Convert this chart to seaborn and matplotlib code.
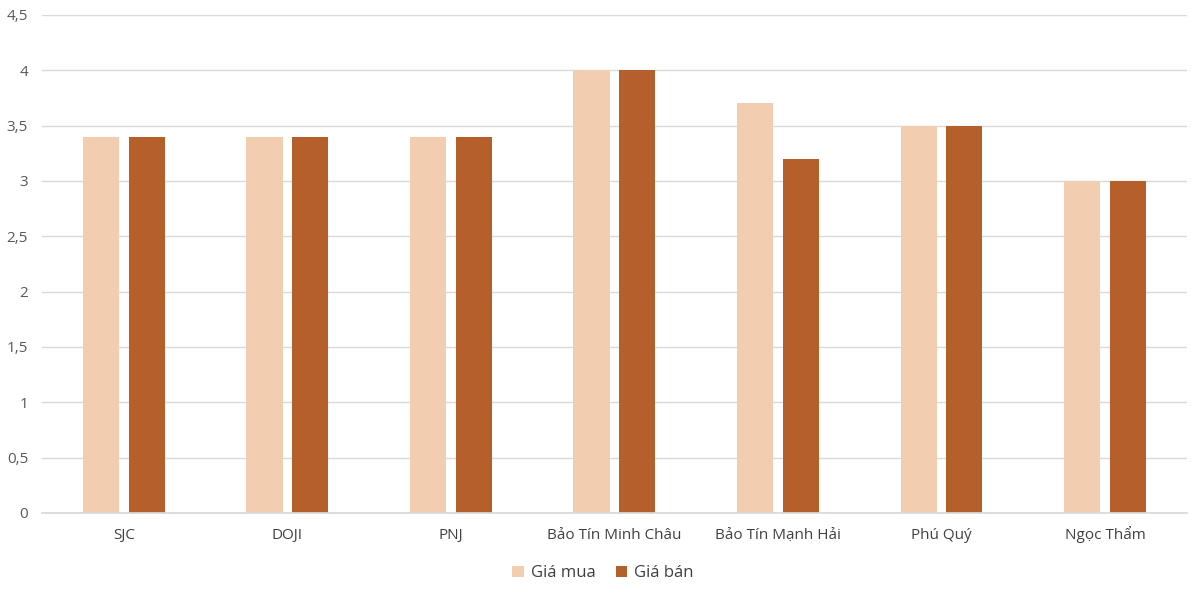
import pandas as pd
import numpy as np
import seaborn as sns
import matplotlib.pyplot as plt
from matplotlib.ticker import FuncFormatter

companies = ["SJC", "DOJI", "PNJ", "Bảo Tín Minh Châu", "Bảo Tín Mạnh Hải", "Phú Quý", "Ngọc Thẩm"]
gia_mua = [3.4, 3.4, 3.4, 4.0, 3.7, 3.5, 3.0]
gia_ban = [3.4, 3.4, 3.4, 4.0, 3.2, 3.5, 3.0]
series = ["Giá mua", "Giá bán"]
colors = ["#F2CDB0", "#B5602A"]

df = pd.DataFrame({"company": companies * 2,
                   "value": gia_mua + gia_ban,
                   "series": [series[0]] * len(companies) + [series[1]] * len(companies)})

sns.set_theme(style="white")
plt.rcParams['font.family'] = ['Open Sans', 'DejaVu Sans']

fig = plt.figure(figsize=(12, 5.95), dpi=100)
ax = fig.add_axes([0.035, 0.138, 0.954, 0.837])

sns.barplot(data=df, x="company", y="value", hue="series", palette=colors,
            width=0.56, gap=0.21, ax=ax, saturation=1, errorbar=None, linewidth=0)

ax.set_xlim(-0.5, len(companies) - 0.5)
ax.set_ylim(0, 4.5)
ax.set_yticks(np.arange(0, 4.51, 0.5))
ax.yaxis.set_major_formatter(FuncFormatter(lambda v, p: f"{v:g}".replace(".", ",")))
ax.grid(axis="y", color="#D9D9D9", linewidth=1)
ax.set_axisbelow(True)
for s in ["top", "right", "left"]:
    ax.spines[s].set_visible(False)
ax.spines["bottom"].set_color("#D9D9D9")
ax.tick_params(axis="y", length=0, labelsize=11, labelcolor="#595959", pad=10)
ax.tick_params(axis="x", length=0, labelsize=11, labelcolor="#404040", pad=19)
# baseline alignment so labels with diacritics line up with the others
for lbl in ax.get_xticklabels():
    lbl.set_verticalalignment("baseline")
ax.set_xlabel("")
ax.set_ylabel("")

ax.legend(loc="upper center", bbox_to_anchor=(0.49, -0.075), ncol=2, frameon=False,
          fontsize=12, handlelength=0.7, handleheight=0.7, handletextpad=0.4,
          columnspacing=1.2, labelcolor="#404040")

plt.savefig("out.png", dpi=100)
